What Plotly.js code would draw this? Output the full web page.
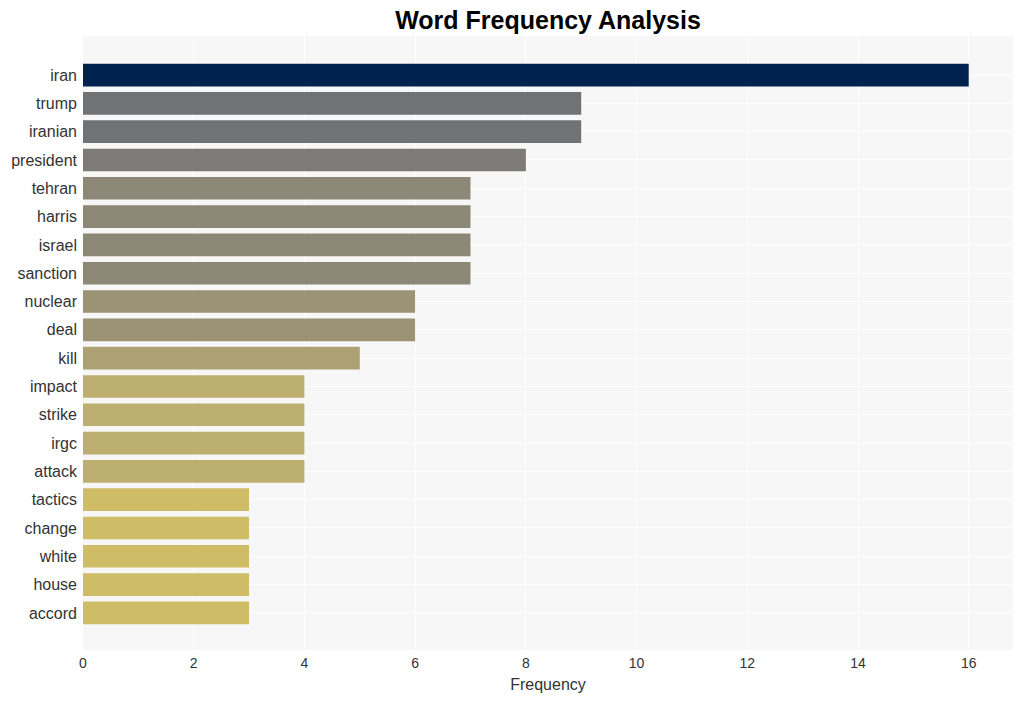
<!DOCTYPE html>
<html>
<head>
<meta charset="utf-8">
<script src="https://cdn.plot.ly/plotly-3.0.1.min.js"></script>
<style>html,body{margin:0;padding:0;background:#fff;}#chart{width:1023px;height:701px;}</style>
</head>
<body>
<div id="chart"></div>
<script>
const words = ["iran","trump","iranian","president","tehran","harris","israel","sanction","nuclear","deal","kill","impact","strike","irgc","attack","tactics","change","white","house","accord"];
const counts = [16,9,9,8,7,7,7,7,6,6,5,4,4,4,4,3,3,3,3,3];
const xTicks = [0,2,4,6,8,10,12,14,16];

const cividisRev = [
  [0,'#fee838'],[0.125,'#dfcb5d'],[0.25,'#bcaf6f'],[0.375,'#9b9374'],
  [0.5,'#7c7b78'],[0.625,'#666970'],[0.75,'#414d6b'],[0.875,'#213e6e'],[1,'#00224e']
];

const trace = {
  type: 'bar',
  orientation: 'h',
  x: counts,
  y: words,
  marker: {color: counts, colorscale: cividisRev, cmin: 0, cmax: 16, showscale: false},
  hoverinfo: 'x+y'
};

const layout = {
  width: 1023, height: 701,
  margin: {l: 83, r: 10, t: 36, b: 51},
  paper_bgcolor: '#ffffff',
  plot_bgcolor: '#f7f7f7',
  title: {text: '<b>Word Frequency Analysis</b>', x: 0.5, xref: 'paper', xanchor: 'center',
          y: 0.9715, yref: 'container', yanchor: 'middle',
          font: {family: 'Liberation Sans, Arial, sans-serif', size: 25, color: '#000'}},
  font: {family: 'Liberation Sans, Arial, sans-serif', color: '#333'},
  xaxis: {
    title: {text: 'Frequency', font: {size: 16, color: '#333'}, standoff: 8},
    tickvals: xTicks, ticktext: xTicks.map(String),
    range: [0, 16.8],
    gridcolor: '#ffffff', gridwidth: 1, zeroline: false,
    tickfont: {size: 14, color: '#333'}, ticks: '', showline: false,
    ticklabelstandoff: 3
  },
  yaxis: {
    type: 'category',
    categoryorder: 'array', categoryarray: words,
    range: [20.31, -1.38],
    gridcolor: '#ffffff', gridwidth: 1, zeroline: false,
    tickfont: {size: 16, color: '#333'}, ticks: '', ticklen: 0, showline: false,
    ticklabelstandoff: 5
  },
  bargap: 0.2,
  showlegend: false
};

Plotly.newPlot('chart', [trace], layout, {displayModeBar: false, responsive: false});
</script>
</body>
</html>
